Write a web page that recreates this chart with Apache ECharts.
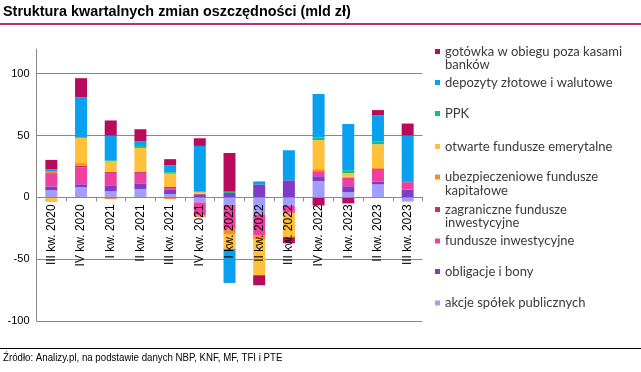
<!DOCTYPE html>
<html>
<head>
<meta charset="utf-8">
<script src="https://cdn.jsdelivr.net/npm/echarts@6/dist/echarts.min.js"></script>
<style>html,body{margin:0;padding:0;background:#fff}#c{width:641px;height:372px}</style>
</head>
<body>
<div id="c"></div>
<script>
var categories = ['III kw. 2020','IV kw. 2020','I kw. 2021','II kw. 2021','III kw. 2021','IV kw. 2021','I kw. 2022','II kw. 2022','III kw. 2022','IV kw. 2022','I kw. 2023','II kw. 2023','III kw. 2023'];
var akcje = [5.7, 8.4, 4.9, 6.8, 2.7, -4.1, -6, -13.8, -7, 13, 4.1, 10.5, -3.2];
var obligacje = [3.2, 2.2, 4.9, 4.1, 3.8, 2.4, 3.5, 10.5, 13.8, 4.1, 4.9, 2.4, 6.2];
var funduszeInw = [10.3, 13.8, 10, 8.9, 1.1, -10.5, -19.5, -17, -5.4, 4.1, 6.8, 10.1, 5.9];
var zagraniczne = [0.5, 1.1, 0.8, 0.8, 0.8, 0.4, 0, 0, 0, 0, 0, 0, 0.4];
var ubezpieczeniowe = [0.8, 2.2, -1.3, 0.5, -1.3, -1.2, -4.6, -3.4, -0.8, 1.6, 0.8, 0.8, 0];
var ofe = [-3.8, 20.3, 8.6, 18.9, 10.8, 1.5, -11.6, -28.8, -19, 23.5, 3, 19.2, -0.8];
var ppk = [0.3, 0.3, 0.8, 1.6, 1.1, 0.3, 1.1, 0, 0, 2.2, 2.4, 2.4, 0];
var depozyty = [1.9, 32.7, 20, 3.8, 5.7, 37, -27.5, 2.4, 24.3, 35.1, 37.3, 21.1, 37.5];
var gotowka = [7.6, 15.4, 12.2, 9.7, 4.9, 6.2, 31.3, -8.1, -4.9, -6.5, -4.9, 4.1, 9.7];
var yTicks = [-100, 120, 50];

var seriesDefs = [
  {name:'akcje spółek publicznych', data:akcje, color:'#A09EFF'},
  {name:'obligacje i bony', data:obligacje, color:'#7E3DC6'},
  {name:'fundusze inwestycyjne', data:funduszeInw, color:'#EE40A0'},
  {name:'zagraniczne fundusze inwestycyjne', data:zagraniczne, color:'#C0306C'},
  {name:'ubezpieczeniowe fundusze kapitałowe', data:ubezpieczeniowe, color:'#FF8A2A'},
  {name:'otwarte fundusze emerytalne', data:ofe, color:'#FFC03A'},
  {name:'PPK', data:ppk, color:'#12C07E'},
  {name:'depozyty złotowe i walutowe', data:depozyty, color:'#0AA0F0'},
  {name:'gotówka w obiegu poza kasami banków', data:gotowka, color:'#B80B5C'}
];
var legendText = {
  'gotówka w obiegu poza kasami banków':' \ngotówka w obiegu poza kasami\nbanków',
  'ubezpieczeniowe fundusze kapitałowe':' \nubezpieczeniowe fundusze\nkapitałowe',
  'zagraniczne fundusze inwestycyjne':' \nzagraniczne fundusze\ninwestycyjne'
};
var legendOrder = ['gotówka w obiegu poza kasami banków','depozyty złotowe i walutowe','PPK','otwarte fundusze emerytalne','ubezpieczeniowe fundusze kapitałowe','zagraniczne fundusze inwestycyjne','fundusze inwestycyjne','obligacje i bony','akcje spółek publicznych'];
var legendCenters = [51.5, 82.5, 113.5, 146.5, 177, 209.5, 241, 271.5, 303];

var LH = 13.5;
var legends = legendOrder.map(function(n, i){
  var two = !!legendText[n];
  return {
    orient:'vertical', left:435, top: legendCenters[i] - (two ? LH*1.5 : LH/2),
    padding:0, icon:'rect', itemWidth:5, itemHeight:5,
    data:[n], selectedMode:false,
    formatter:function(name){ return legendText[name] || name; },
    textStyle:{fontFamily:'Lato', fontSize:13, color:'#3a3a3a', lineHeight:LH}
  };
});

var gridH = 272;
// move the category axis up from the grid bottom to the zero line
var zeroOffset = -gridH * (0 - yTicks[0]) / (yTicks[1] - yTicks[0]);

var chart = echarts.init(document.getElementById('c'), null, {renderer:'canvas'});
chart.setOption({
  animation:false,
  title:{text:'Struktura kwartalnych zmian oszczędności (mld zł)', left:3, top:5, padding:0,
    textStyle:{fontFamily:'Liberation Sans', fontWeight:'bold', fontSize:14.4, color:'#000'}},
  legend: legends,
  grid:{left:36.5, top:49, width:386, height:gridH, containLabel:false, outerBoundsMode:'none'},
  xAxis:{type:'category', data:categories, z:5, position:'bottom', offset:zeroOffset,
    axisLine:{onZero:false, lineStyle:{color:'#888', width:1}},
    axisTick:{show:true, length:4, lineStyle:{color:'#888'}},
    axisLabel:{rotate:90, margin:7, fontFamily:'Liberation Sans', fontSize:12, color:'#000', interval:0}},
  yAxis:{type:'value', min:yTicks[0], max:yTicks[1], interval:yTicks[2],
    axisLine:{show:true, lineStyle:{color:'#888'}},
    axisTick:{show:false},
    axisLabel:{showMaxLabel:false, margin:7, fontFamily:'Liberation Sans', fontSize:11, color:'#000'},
    splitLine:{show:true, showMaxLine:false, lineStyle:{color:['#888','#888','#888','#888','#888','rgba(0,0,0,0)'], width:1}}},
  series: seriesDefs.map(function(s){
    return {type:'bar', name:s.name, data:s.data, stack:'all', barWidth:12,
      itemStyle:{color:s.color}, emphasis:{disabled:true}};
  }),
  graphic:[
    {type:'rect', shape:{x:0, y:23, width:641, height:2}, style:{fill:'#C0306C'}, silent:true},
    {type:'rect', shape:{x:0, y:348, width:641, height:1}, style:{fill:'#000'}, silent:true},
    {type:'text', x:3, y:352, scaleX:0.88, style:{text:'Źródło: Analizy.pl, na podstawie danych NBP, KNF, MF, TFI i PTE',
      fontFamily:'Liberation Sans', fontSize:11, fill:'#000'}, silent:true}
  ]
});
</script>
</body>
</html>
